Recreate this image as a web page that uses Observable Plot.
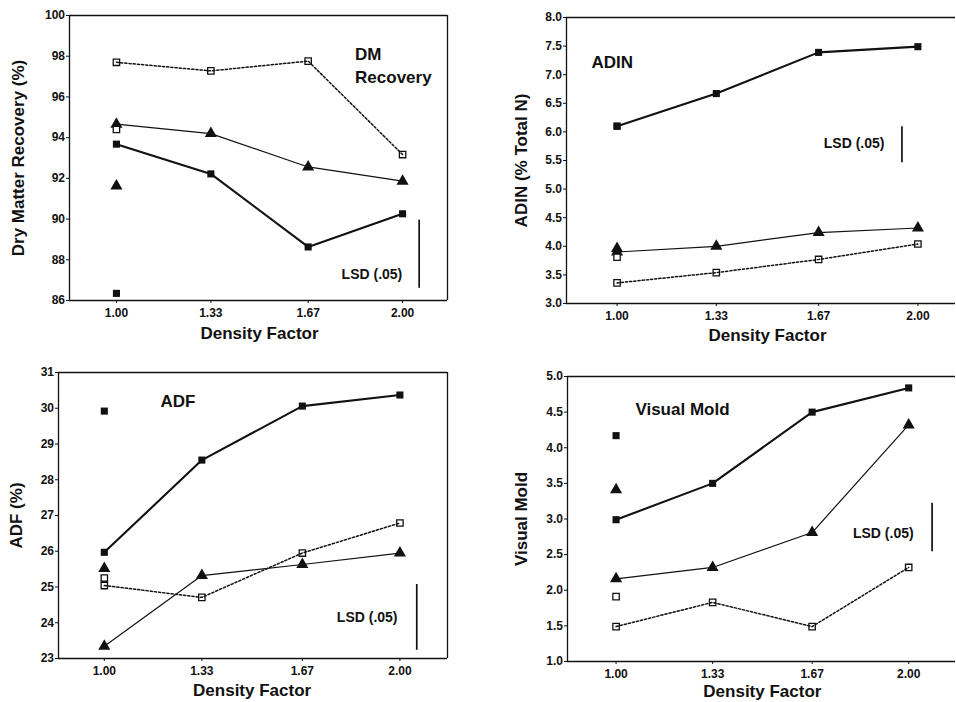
<!DOCTYPE html>
<html><head><meta charset="utf-8">
<script src="https://cdn.jsdelivr.net/npm/d3@7"></script>
<script src="https://cdn.jsdelivr.net/npm/@observablehq/plot@0.6"></script>
<style>
html,body{margin:0;padding:0;background:#fff;}
#chart{position:relative;width:956px;height:702px;overflow:hidden;background:#fff;}
#chart svg{position:absolute;}
</style></head><body><div id="chart"></div>
<script>
// ---- shared x values and labels ----
const density = [1.00, 1.33, 1.67, 2.00];
const xTickLabels = ["1.00", "1.33", "1.67", "2.00"];
const xLabel = "Density Factor";

// ---- DM Recovery ----
const dmFilled   = [93.68, 92.22, 88.63, 90.26];
const dmTriangle = [94.66, 94.20, 92.56, 91.86];
const dmOpen     = [97.70, 97.28, 97.76, 93.17];
const dmSingle   = [86.35, 91.63, 94.40];   // filled, triangle, open at 1.00
const dmLSD      = [86.60, 89.95];
const dmTicks    = [86, 88, 90, 92, 94, 96, 98, 100];
const dmTickLabels = ["86", "88", "90", "92", "94", "96", "98", "100"];

// ---- ADIN ----
const adinFilled   = [6.10, 6.67, 7.39, 7.49];
const adinTriangle = [3.90, 4.00, 4.24, 4.32];
const adinOpen     = [3.36, 3.54, 3.77, 4.04];
const adinSingle   = [6.10, 3.96, 3.81];
const adinLSD      = [5.46, 6.09];
const adinTicks    = [3.0, 3.5, 4.0, 4.5, 5.0, 5.5, 6.0, 6.5, 7.0, 7.5, 8.0];
const adinTickLabels = ["3.0", "3.5", "4.0", "4.5", "5.0", "5.5", "6.0", "6.5", "7.0", "7.5", "8.0"];

// ---- ADF ----
const adfFilled   = [25.97, 28.55, 30.06, 30.37];
const adfTriangle = [23.34, 25.32, 25.63, 25.95];
const adfOpen     = [25.04, 24.71, 25.95, 26.79];
const adfSingle   = [29.92, 25.52, 25.25];
const adfLSD      = [23.23, 25.07];
const adfTicks    = [23, 24, 25, 26, 27, 28, 29, 30, 31];
const adfTickLabels = ["23", "24", "25", "26", "27", "28", "29", "30", "31"];

// ---- Visual Mold ----
const moldFilled   = [2.99, 3.50, 4.50, 4.84];
const moldTriangle = [2.16, 2.32, 2.81, 4.32];
const moldOpen     = [1.49, 1.83, 1.49, 2.32];
const moldSingle   = [4.17, 3.41, 1.91];
const moldLSD      = [2.54, 3.22];
const moldTicks    = [1.0, 1.5, 2.0, 2.5, 3.0, 3.5, 4.0, 4.5, 5.0];
const moldTickLabels = ["1.0", "1.5", "2.0", "2.5", "3.0", "3.5", "4.0", "4.5", "5.0"];

const INK = "#111";
const FONT = "'Liberation Sans', Arial, Helvetica, sans-serif";

const panels = [
  {left: 0, top: 0, margin: [15, 31, 51, 69], xDomain: [0.836, 2.157], yDomain: [86, 100],
   filled: dmFilled, tri: dmTriangle, open: dmOpen, single: dmSingle, lsd: dmLSD,
   ticks: dmTicks, tickLabels: dmTickLabels, yLabel: "Dry Matter Recovery (%)", yLabelDx: -51,
   titles: [{t: "DM", x: 1.834, y: 98.08}, {t: "Recovery", x: 1.834, y: 96.95}],
   lsdText: {x: 1.999, y: 87.28}, lsdX: 2.058, xLabelDy: 33, rightLine: true},
  {left: 478, top: 0, margin: [17, 1, 48, 88], xDomain: [0.832, 2.125], yDomain: [3, 8],
   filled: adinFilled, tri: adinTriangle, open: adinOpen, single: adinSingle, lsd: adinLSD,
   ticks: adinTicks, tickLabels: adinTickLabels, yLabel: "ADIN (% Total N)", yLabelDx: -45,
   titles: [{t: "ADIN", x: 0.915, y: 7.21}],
   lsdText: {x: 1.889, y: 5.80}, lsdX: 1.947, xLabelDy: 32, rightLine: false},
  {left: 0, top: 351, margin: [21, 31, 44, 58], xDomain: [0.845, 2.161], yDomain: [23, 31],
   filled: adfFilled, tri: adfTriangle, open: adfOpen, single: adfSingle, lsd: adfLSD,
   ticks: adfTicks, tickLabels: adfTickLabels, yLabel: "ADF (%)", yLabelDx: -42,
   titles: [{t: "ADF", x: 1.19, y: 30.2}],
   lsdText: {x: 1.992, y: 24.14}, lsdX: 2.057, xLabelDy: 32, rightLine: true},
  {left: 478, top: 351, margin: [25, 1, 41, 89], xDomain: [0.834, 2.16], yDomain: [1, 5],
   filled: moldFilled, tri: moldTriangle, open: moldOpen, single: moldSingle, lsd: moldLSD,
   ticks: moldTicks, tickLabels: moldTickLabels, yLabel: "Visual Mold", yLabelDx: -46,
   titles: [{t: "Visual Mold", x: 1.066, y: 4.53}],
   lsdText: {x: 2.017, y: 2.79}, lsdX: 2.08, xLabelDy: 30, rightLine: false}
];

const rows = vals => density.map((d, i) => ({x: d, y: vals[i]}));

function makePanel(c) {
  const [mt, mr, mb, ml] = c.margin;
  const frameX = c.rightLine ? c.xDomain : [c.xDomain[0]];
  const marks = [
    Plot.ruleY(c.yDomain, {stroke: INK, strokeWidth: 1.3}),
    Plot.ruleX(frameX, {stroke: INK, strokeWidth: 1.3}),
    // series lines
    Plot.line(rows(c.open), {x: "x", y: "y", stroke: INK, strokeWidth: 1.5, strokeDasharray: "2.2,2"}),
    Plot.line(rows(c.tri), {x: "x", y: "y", stroke: INK, strokeWidth: 1.2}),
    Plot.line(rows(c.filled), {x: "x", y: "y", stroke: INK, strokeWidth: 2.1}),
    // markers
    Plot.dot(rows(c.open), {x: "x", y: "y", symbol: "square", r: 3.6, fill: "none", stroke: INK, strokeWidth: 1.3}),
    Plot.dot(rows(c.tri), {x: "x", y: "y", symbol: "triangle", r: 4.5, fill: INK}),
    Plot.dot(rows(c.filled), {x: "x", y: "y", symbol: "square", r: 4, fill: INK}),
    // isolated values at 1.00
    Plot.dot([c.single[0]], {x: density[0], y: d => d, symbol: "square", r: 4, fill: INK}),
    Plot.dot([c.single[1]], {x: density[0], y: d => d, symbol: "triangle", r: 4.5, fill: INK}),
    Plot.dot([c.single[2]], {x: density[0], y: d => d, symbol: "square", r: 3.6, fill: "white", stroke: INK, strokeWidth: 1.3}),
    // LSD bar
    Plot.ruleX([c.lsd], {x: c.lsdX, y1: d => d[0], y2: d => d[1], stroke: INK, strokeWidth: 1.7}),
    Plot.text(["LSD (.05)"], {x: c.lsdText.x, y: c.lsdText.y, textAnchor: "end", fontSize: 14, fontWeight: "bold", fill: INK}),
    // titles
    Plot.text(c.titles, {x: "x", y: "y", text: "t", textAnchor: "start", fontSize: 17, fontWeight: "bold", fill: INK}),
    // axis labels
    Plot.text([c.yLabel], {frameAnchor: "left", rotate: -90, dx: c.yLabelDx, textAnchor: "middle", lineAnchor: "middle", fontSize: 17, fontWeight: "bold", fill: INK}),
    Plot.text([xLabel], {x: 1.5, frameAnchor: "bottom", dy: c.xLabelDy, textAnchor: "middle", lineAnchor: "middle", fontSize: 17, fontWeight: "bold", fill: INK})
  ];
  const svg = Plot.plot({
    width: 478, height: 351,
    marginTop: mt, marginRight: mr, marginBottom: mb, marginLeft: ml,
    style: {fontFamily: FONT, fontSize: "12px", fontWeight: "bold", color: INK, background: "white", overflow: "visible"},
    x: {domain: c.xDomain, ticks: density, tickFormat: d => xTickLabels[density.indexOf(d)], tickSize: 3, tickPadding: 5, label: null},
    y: {domain: c.yDomain, ticks: c.ticks, tickFormat: d => c.tickLabels[c.ticks.indexOf(d)], tickSize: 3, tickPadding: 1.5, label: null},
    marks
  });
  svg.style.left = c.left + "px";
  svg.style.top = c.top + "px";
  return svg;
}

const chart = document.getElementById("chart");
panels.forEach(p => chart.appendChild(makePanel(p)));
</script>
</body></html>
